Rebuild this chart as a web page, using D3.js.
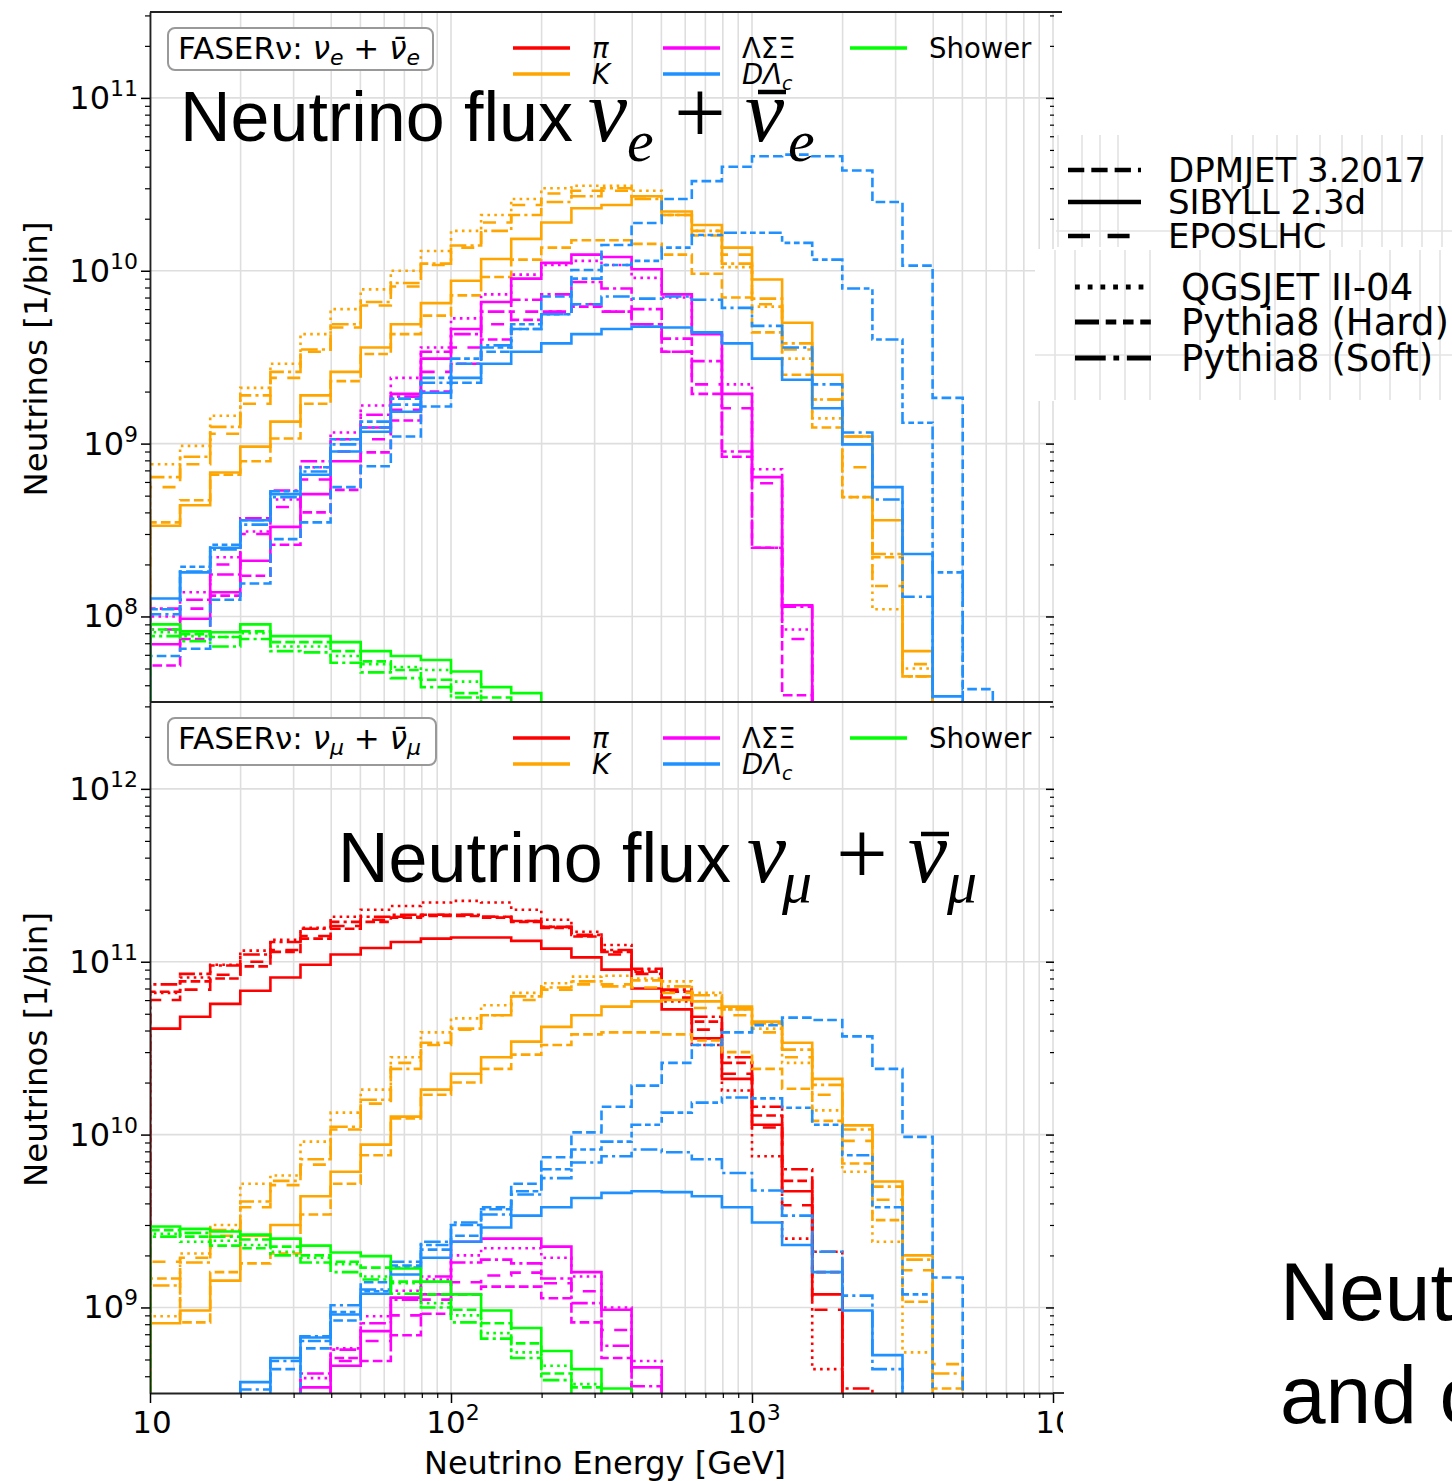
<!DOCTYPE html>
<html>
<head>
<meta charset="utf-8">
<script src="https://cdn.jsdelivr.net/npm/d3@7"></script>
<style>
  body { margin: 0; background: #fff; }
  svg { display: block; }
  text { fill: #000; }
</style>
</head>
<body>
<div id="chart"></div>
<script>
// histogram bin edges [GeV], 10 bins per decade
let binEdges = [10, 12.59, 15.85, 19.95, 25.12, 31.62, 39.81, 50.12, 63.10, 79.43,
  100, 125.9, 158.5, 199.5, 251.2, 316.2, 398.1, 501.2, 631.0, 794.3,
  1000, 1259, 1585, 1995, 2512, 3162, 3981, 5012, 6310, 7943, 10000];

// ---- electron neutrinos (top panel), neutrinos per bin ----
let nueKaonDpmjet = [3.5e8, 4.7e8, 6.6e8, 7.9e8, 1.07e9, 1.7e9, 2.3e9, 3.3e9, 4.3e9, 5.5e9, 7.2e9, 9.2e9, 1.16e10, 1.36e10, 1.5e10, 1.5e10, 1.43e10, 1.24e10, 9.6e9, 7.0e9, 4.4e9, 2.5e9, 1.24e9, 4.9e8, 2.2e8, 4.5e7];
let nueKaonSibyll = [3.35e8, 4.4e8, 6.8e8, 9.6e8, 1.34e9, 1.9e9, 2.6e9, 3.6e9, 4.9e9, 6.5e9, 8.75e9, 1.17e10, 1.53e10, 1.9e10, 2.3e10, 2.4e10, 2.7e10, 2.2e10, 1.84e10, 1.36e10, 8.9e9, 5.0e9, 2.5e9, 1.1e9, 3.6e8, 6.3e7];
let nueKaonEpos = [5.6e8, 7.6e8, 1.14e9, 1.7e9, 2.4e9, 3.4e9, 4.7e9, 6.3e9, 8.1e9, 1.08e10, 1.36e10, 1.9e10, 2.4e10, 2.8e10, 2.9e10, 2.9e10, 2.7e10, 2.1e10, 1.7e10, 1.24e10, 6.4e9, 3.5e9, 1.8e9, 7.3e8, 1.5e8, 5.3e7];
let nueKaonQgsjet = [7.6e8, 9.7e8, 1.45e9, 2.1e9, 2.9e9, 4.3e9, 6.0e9, 7.8e9, 1.0e10, 1.3e10, 1.7e10, 2.1e10, 2.6e10, 3.0e10, 3.1e10, 3.1e10, 2.9e10, 2.1e10, 1.7e10, 1.05e10, 6.2e9, 3.1e9, 1.4e9, 4.9e8, 1.1e8, 5.0e7];
let nueKaonP8soft = [6.4e8, 8.4e8, 1.25e9, 1.9e9, 2.6e9, 3.5e9, 4.9e9, 6.6e9, 8.5e9, 1.1e10, 1.4e10, 1.7e10, 2.1e10, 2.5e10, 2.7e10, 3.0e10, 2.6e10, 2.1e10, 1.6e10, 1.1e10, 6.9e9, 3.8e9, 1.8e9, 1.1e9, 2.3e8, 4.5e7];

let nueHyperonDpmjet = [5.2e7, 7.4e7, 1.32e8, 1.72e8, 2.6e8, 4.0e8, 5.4e8, 8.9e8, 1.36e9, 2.0e9, 2.9e9, 4.0e9, 5.2e9, 5.8e9, 6.2e9, 5.8e9, 4.9e9, 3.4e9, 1.94e9, 8.4e8, 2.5e8, 3.5e7];
let nueHyperonSibyll = [6.9e7, 9.7e7, 1.38e8, 2.1e8, 3.3e8, 5.1e8, 7.9e8, 1.24e9, 1.94e9, 3.1e9, 4.6e9, 6.6e9, 9.0e9, 1.11e10, 1.24e10, 1.2e10, 1.02e10, 7.3e9, 4.3e9, 1.94e9, 6.4e8, 1.16e8];
let nueHyperonEpos = [8.4e7, 1.11e8, 2.0e8, 3.0e8, 4.3e8, 6.2e8, 9.0e8, 1.06e9, 1.57e9, 2.6e9, 3.6e9, 4.9e9, 5.8e9, 5.8e9, 6.4e9, 5.8e9, 4.9e9, 3.4e9, 2.2e9, 1.6e9, 5.9e8, 7.4e7];
let nueHyperonQgsjet = [1.0e8, 1.38e8, 2.2e8, 3.1e8, 4.75e8, 7.3e8, 1.16e9, 1.66e9, 2.4e9, 3.6e9, 5.3e9, 7.3e9, 9.5e9, 1.08e10, 1.14e10, 1.08e10, 9.1e9, 7.0e9, 4.4e9, 2.2e9, 7.1e8, 8.4e7];
let nueHyperonP8soft = [1.11e8, 1.25e8, 1.75e8, 3.7e8, 5.35e8, 7.9e8, 1.06e9, 1.47e9, 1.87e9, 3.4e9, 4.3e9, 5.8e9, 6.8e9, 7.3e9, 8.6e9, 7.9e9, 6.0e9, 4.05e9, 3.0e9, 9.0e8, 2.5e8, 1.14e8];

let nueCharmDpmjet = [5.9e7, 6.5e7, 1.25e8, 1.55e8, 2.8e8, 3.5e8, 5.6e8, 7.4e8, 1.1e9, 1.64e9, 2.25e9, 3.4e9, 4.6e9, 7.1e9, 1.01e10, 1.41e10, 1.89e10, 2.6e10, 3.3e10, 4.0e10, 4.6e10, 4.7e10, 4.6e10, 3.8e10, 2.5e10, 1.07e10, 1.84e9, 3.8e7];
let nueCharmSibyll = [1.27e8, 1.8e8, 2.5e8, 3.6e8, 5.1e8, 6.6e8, 9.0e8, 1.17e9, 1.53e9, 1.97e9, 2.4e9, 2.9e9, 3.4e9, 3.8e9, 4.3e9, 4.6e9, 4.75e9, 4.7e9, 4.4e9, 3.8e9, 3.1e9, 2.34e9, 1.6e9, 9.9e8, 5.6e8, 2.3e8, 3.45e7];
let nueCharmP8hard = [1.1e8, 1.94e8, 2.6e8, 3.6e8, 5.3e8, 7.3e8, 1.06e9, 1.34e9, 1.82e9, 2.4e9, 3.1e9, 3.6e9, 4.9e9, 5.6e9, 9.0e9, 1.08e10, 1.14e10, 1.36e10, 1.61e10, 1.66e10, 1.66e10, 1.45e10, 1.16e10, 7.9e9, 4.0e9, 1.32e9, 1.8e8];
let nueCharmP8soft = [1.03e8, 1.82e8, 2.44e8, 3.4e8, 4.9e8, 6.9e8, 9.9e8, 1.24e9, 1.68e9, 2.25e9, 2.9e9, 3.7e9, 4.6e9, 5.6e9, 6.4e9, 7.1e9, 6.9e9, 7.1e9, 6.8e9, 6.1e9, 4.8e9, 3.6e9, 2.2e9, 1.16e9, 4.75e8, 1.3e8];

let nueShowerDpmjet = [8.4e7, 7.9e7, 7.6e7, 8.2e7, 7.1e7, 7.1e7, 6.3e7, 5.5e7, 4.9e7, 4.3e7, 3.6e7, 3.4e7];
let nueShowerSibyll = [9.0e7, 8.2e7, 8.1e7, 9.0e7, 7.7e7, 7.7e7, 7.1e7, 6.3e7, 5.9e7, 5.6e7, 4.8e7, 3.9e7, 3.6e7];
let nueShowerQgsjet = [8.1e7, 7.7e7, 7.6e7, 8.0e7, 6.7e7, 6.7e7, 5.9e7, 5.3e7, 5.1e7, 4.9e7, 4.2e7];
let nueShowerP8soft = [7.7e7, 7.2e7, 6.7e7, 7.4e7, 6.3e7, 6.2e7, 5.4e7, 4.75e7, 4.4e7, 3.9e7, 3.4e7];

// ---- muon neutrinos (bottom panel) ----
let numuPionDpmjet = [6.7e10, 7.7e10, 8.0e10, 9.4e10, 1.14e11, 1.36e11, 1.55e11, 1.7e11, 1.8e11, 1.84e11, 1.84e11, 1.8e11, 1.7e11, 1.57e11, 1.4e11, 1.14e11, 8.75e10, 6.7e10, 4.5e10, 2.6e10, 1.29e10, 5.4e9, 1.6e9];
let numuPionSibyll = [4.1e10, 4.8e10, 5.7e10, 6.8e10, 8.1e10, 9.6e10, 1.1e11, 1.2e11, 1.3e11, 1.36e11, 1.38e11, 1.38e11, 1.32e11, 1.19e11, 1.06e11, 9.0e10, 7.0e10, 5.3e10, 3.6e10, 2.1e10, 1.14e10, 4.7e9, 1.19e9];
let numuPionEpos = [6.0e10, 6.9e10, 8.4e10, 1.0e11, 1.17e11, 1.41e11, 1.61e11, 1.75e11, 1.82e11, 1.87e11, 1.87e11, 1.82e11, 1.72e11, 1.59e11, 1.41e11, 1.1e11, 8.5e10, 6.2e10, 4.05e10, 2.25e10, 1.1e10, 3.9e9, 9.7e8];
let numuPionQgsjet = [6.6e10, 8.1e10, 9.6e10, 1.16e11, 1.34e11, 1.57e11, 1.82e11, 2.0e11, 2.1e11, 2.2e11, 2.25e11, 2.2e11, 2.0e11, 1.75e11, 1.49e11, 1.25e11, 9.0e10, 5.9e10, 3.3e10, 1.8e10, 7.5e9, 2.5e9, 4.4e8];
let numuPionP8soft = [7.4e10, 8.5e10, 9.5e10, 1.1e11, 1.3e11, 1.55e11, 1.7e11, 1.82e11, 1.87e11, 1.87e11, 1.87e11, 1.82e11, 1.72e11, 1.59e11, 1.43e11, 1.17e11, 9.1e10, 6.9e10, 4.8e10, 2.8e10, 1.45e10, 6.3e9, 2.1e9, 3.4e8];

let numuKaonDpmjet = [1.47e9, 8.2e8, 1.6e9, 1.8e9, 2.05e9, 3.45e9, 5.2e9, 7.6e9, 1.24e10, 1.7e10, 2.0e10, 2.4e10, 2.9e10, 3.3e10, 3.8e10, 3.9e10, 3.9e10, 3.8e10, 3.5e10, 3.0e10, 2.4e10, 1.84e10, 1.2e10, 6.8e9, 3.2e9, 1.08e9, 3.4e8];
let numuKaonSibyll = [8.1e8, 9.6e8, 1.43e9, 2.6e9, 3.0e9, 4.4e9, 6.1e9, 8.75e9, 1.27e10, 1.82e10, 2.25e10, 2.8e10, 3.45e10, 4.2e10, 4.9e10, 5.5e10, 5.9e10, 6.0e10, 5.9e10, 5.5e10, 4.5e10, 3.4e10, 2.1e10, 1.13e10, 5.35e9, 2.0e9];
let numuKaonEpos = [1.84e9, 1.94e9, 2.6e9, 3.8e9, 5.1e9, 6.7e9, 1.07e10, 1.51e10, 2.6e10, 3.3e10, 4.05e10, 4.9e10, 6.0e10, 6.9e10, 7.4e10, 7.4e10, 7.1e10, 6.6e10, 5.4e10, 4.9e10, 3.9e10, 2.8e10, 1.7e10, 9.2e9, 4.2e9, 1.64e9, 4.7e8];
let numuKaonQgsjet = [8.9e8, 2.05e9, 3.0e9, 5.2e9, 5.8e9, 9.1e9, 1.34e10, 1.82e10, 2.8e10, 3.9e10, 4.7e10, 5.6e10, 6.6e10, 7.5e10, 8.2e10, 8.3e10, 8.0e10, 7.7e10, 6.6e10, 5.3e10, 4.1e10, 2.6e10, 1.38e10, 6.1e9, 2.4e9, 5.5e8];
let numuKaonP8soft = [1.34e9, 1.82e9, 2.8e9, 4.1e9, 5.4e9, 7.2e9, 1.11e10, 1.59e10, 2.4e10, 3.4e10, 4.1e10, 4.9e10, 6.3e10, 7.1e10, 7.7e10, 7.2e10, 7.8e10, 7.2e10, 6.4e10, 5.3e10, 4.4e10, 3.1e10, 1.94e10, 1.07e10, 5.0e9, 1.89e9, 4.15e8];

let numuHyperonDpmjet = [0, 0, 0, 0, 0, 0, 5.1e8, 4.9e8, 6.9e8, 9.2e8, 1.19e9, 1.32e9, 1.32e9, 1.13e9, 8.2e8, 5.1e8];
let numuHyperonSibyll = [0, 0, 0, 0, 0, 3.45e8, 4.6e8, 7.3e8, 1.14e9, 1.19e9, 2.4e9, 2.5e9, 2.5e9, 2.25e9, 1.6e9, 9.7e8, 4.5e8];
let numuHyperonEpos = [0, 0, 0, 0, 0, 0, 4.9e8, 6.4e8, 9.0e8, 1.11e9, 1.4e9, 1.53e9, 1.59e9, 1.38e9, 1.24e9, 7.4e8];
let numuHyperonQgsjet = [0, 0, 0, 0, 0, 3.9e8, 5.8e8, 8.9e8, 1.25e9, 1.45e9, 2.0e9, 2.2e9, 2.2e9, 1.94e9, 1.51e9, 1.0e9, 4.9e8];
let numuHyperonP8soft = [0, 0, 0, 0, 0, 4.15e8, 5.7e8, 8.1e8, 1.11e9, 1.51e9, 1.82e9, 1.89e9, 1.8e9, 1.47e9, 1.06e9, 6.0e8, 3.5e8];

let numuCharmDpmjet = [0, 0, 0, 0, 4.4e8, 5.8e8, 8.4e8, 1.4e9, 1.75e9, 2.16e9, 2.6e9, 3.8e9, 5.2e9, 7.4e9, 1.03e10, 1.45e10, 1.92e10, 2.6e10, 3.3e10, 3.9e10, 4.3e10, 4.75e10, 4.6e10, 3.7e10, 2.4e10, 9.7e9, 1.49e9];
let numuCharmSibyll = [0, 0, 0, 3.7e8, 5.1e8, 6.7e8, 9.1e8, 1.2e9, 1.55e9, 1.94e9, 2.4e9, 2.9e9, 3.4e9, 3.8e9, 4.3e9, 4.6e9, 4.7e9, 4.65e9, 4.4e9, 3.8e9, 3.1e9, 2.3e9, 1.6e9, 9.6e8, 5.3e8];
let numuCharmP8hard = [0, 0, 0, 0, 0, 6.4e8, 9.4e8, 1.24e9, 1.7e9, 2.3e9, 3.0e9, 3.7e9, 4.7e9, 6.3e9, 8.2e9, 9.1e9, 1.14e10, 1.34e10, 1.53e10, 1.64e10, 1.62e10, 1.43e10, 1.14e10, 7.6e9, 3.8e9, 1.19e9];
let numuCharmP8soft = [0, 0, 0, 3.35e8, 4.9e8, 6.8e8, 1.03e9, 1.27e9, 1.84e9, 2.4e9, 3.1e9, 3.45e9, 4.5e9, 5.6e9, 6.9e9, 7.5e9, 8.2e9, 7.9e9, 7.2e9, 6.0e9, 4.75e9, 3.4e9, 2.1e9, 1.17e9, 4.4e8];

let numuShowerDpmjet = [2.8e9, 2.57e9, 2.28e9, 2.2e9, 2.25e9, 2.0e9, 1.84e9, 1.7e9, 1.41e9, 1.19e9, 9.7e8, 8.1e8, 6.2e8, 4.15e8, 3.45e8];
let numuShowerSibyll = [2.94e9, 2.85e9, 2.75e9, 2.64e9, 2.5e9, 2.28e9, 2.08e9, 1.98e9, 1.68e9, 1.41e9, 1.19e9, 9.6e8, 7.6e8, 5.6e8, 4.4e8, 3.4e8];
let numuShowerQgsjet = [2.67e9, 2.4e9, 2.43e9, 2.3e9, 2.1e9, 1.94e9, 1.78e9, 1.51e9, 1.38e9, 1.06e9, 9.0e8, 7.1e8, 5.5e8, 4.6e8, 3.6e8];
let numuShowerP8soft = [2.57e9, 2.7e9, 2.57e9, 2.47e9, 2.0e9, 1.82e9, 1.6e9, 1.45e9, 1.2e9, 1.0e9, 8.2e8, 6.6e8, 5.1e8, 3.8e8];

// ---- labels ----
let sourceNames = ["π", "K", "ΛΣΞ", "DΛ", "Shower"];
let generatorNames = ["DPMJET 3.2017", "SIBYLL 2.3d", "EPOSLHC", "QGSJET II-04", "Pythia8 (Hard)", "Pythia8 (Soft)"];

// ---- styles ----
let sansMpl = "'DejaVu Sans', sans-serif";
let sansSlide = "'Liberation Sans', Arial, sans-serif";
let serifMath = "'Liberation Serif', 'Times New Roman', serif";

let sourceColors = { pi: "#ff0000", K: "#ffa500", hyp: "#ff00ff", charm: "#1e90ff", shower: "#00ff00" };
let generatorDash = {
  dpmjet: [3.7, 1.6],
  sibyll: null,
  epos:   [5, 4],
  qgsjet: [1, 1.65],
  p8hard: [5, 1.4, 2.2, 1.4, 2.2, 1.4, 2.2, 1.4],
  p8soft: [6.4, 1.6, 1.2, 1.6]
};
let lineWidth = 2.6;

let nueSeries = [
  ["K", "dpmjet", nueKaonDpmjet], ["K", "sibyll", nueKaonSibyll], ["K", "epos", nueKaonEpos],
  ["K", "qgsjet", nueKaonQgsjet], ["K", "p8soft", nueKaonP8soft],
  ["hyp", "dpmjet", nueHyperonDpmjet], ["hyp", "sibyll", nueHyperonSibyll], ["hyp", "epos", nueHyperonEpos],
  ["hyp", "qgsjet", nueHyperonQgsjet], ["hyp", "p8soft", nueHyperonP8soft],
  ["charm", "dpmjet", nueCharmDpmjet], ["charm", "sibyll", nueCharmSibyll],
  ["charm", "p8hard", nueCharmP8hard], ["charm", "p8soft", nueCharmP8soft],
  ["shower", "dpmjet", nueShowerDpmjet], ["shower", "sibyll", nueShowerSibyll],
  ["shower", "qgsjet", nueShowerQgsjet], ["shower", "p8soft", nueShowerP8soft]
];
let numuSeries = [
  ["pi", "dpmjet", numuPionDpmjet], ["pi", "sibyll", numuPionSibyll], ["pi", "epos", numuPionEpos],
  ["pi", "qgsjet", numuPionQgsjet], ["pi", "p8soft", numuPionP8soft],
  ["K", "dpmjet", numuKaonDpmjet], ["K", "sibyll", numuKaonSibyll], ["K", "epos", numuKaonEpos],
  ["K", "qgsjet", numuKaonQgsjet], ["K", "p8soft", numuKaonP8soft],
  ["hyp", "dpmjet", numuHyperonDpmjet], ["hyp", "sibyll", numuHyperonSibyll], ["hyp", "epos", numuHyperonEpos],
  ["hyp", "qgsjet", numuHyperonQgsjet], ["hyp", "p8soft", numuHyperonP8soft],
  ["charm", "dpmjet", numuCharmDpmjet], ["charm", "sibyll", numuCharmSibyll],
  ["charm", "p8hard", numuCharmP8hard], ["charm", "p8soft", numuCharmP8soft],
  ["shower", "dpmjet", numuShowerDpmjet], ["shower", "sibyll", numuShowerSibyll],
  ["shower", "qgsjet", numuShowerQgsjet], ["shower", "p8soft", numuShowerP8soft]
];

let plotLeft = 150, plotRight = 1053;

let panels = [
  { id: "nue", top: 12, bottom: 702, domain: [3.2e7, 3.14e11], series: nueSeries, flavour: "e" },
  { id: "numu", top: 702, bottom: 1393, domain: [3.2e8, 3.18e12], series: numuSeries, flavour: "μ" }
];

let svg =
  d3.select("#chart")
    .append("svg")
      .attr("width", 1452)
      .attr("height", 1481)
      .style("font-family", sansMpl);

let x =
  d3.scaleLog()
    .domain([10, 1e4])
    .range([plotLeft, plotRight]);

let xMajors = [10, 100, 1000, 10000];
let xMinors = x.ticks().filter(t => xMajors.indexOf(t) < 0);

function dashFor(gen, lw) {
  let d = generatorDash[gen];
  return d ? d.map(v => v * lw).join(",") : null;
}

// matplotlib "step" outline for one histogram
function stepPoints(values) {
  let first = values.findIndex(v => v > 0);
  let last = values.length - 1;
  while (last >= 0 && !(values[last] > 0)) last--;
  let pts = [[binEdges[first], 0]];
  for (let i = first; i <= last; i++) pts.push([binEdges[i], values[i]]);
  pts.push([binEdges[last + 1], values[last]]);
  pts.push([binEdges[last + 1], 0]);
  return pts;
}

function powerLabel(sel, exp, supDy, supSize) {
  sel.append("tspan").text("10");
  if (exp > 1) {
    sel.append("tspan")
      .attr("dy", supDy)
      .attr("font-size", supSize)
      .text(exp);
  }
}

panels.forEach(function(p) {
  let y =
    d3.scaleLog()
      .domain(p.domain)
      .range([p.bottom, p.top]);

  let yMajors = y.ticks().filter(t => Math.abs(Math.log10(t) - Math.round(Math.log10(t))) < 1e-9);
  let yMinors = y.ticks().filter(t => yMajors.indexOf(t) < 0);

  let g = svg.append("g").attr("class", "panel-" + p.id);

  // grid
  g.append("g")
    .selectAll("line")
    .data(x.ticks())
    .join("line")
      .attr("x1", d => x(d)).attr("x2", d => x(d))
      .attr("y1", p.top).attr("y2", p.bottom)
      .attr("stroke", "#dedede")
      .attr("stroke-width", 1.6);
  g.append("g")
    .selectAll("line")
    .data(yMajors)
    .join("line")
      .attr("x1", plotLeft).attr("x2", plotRight)
      .attr("y1", d => y(d)).attr("y2", d => y(d))
      .attr("stroke", "#dedede")
      .attr("stroke-width", 1.6);

  svg.append("clipPath")
      .attr("id", "clip-" + p.id)
    .append("rect")
      .attr("x", plotLeft).attr("y", p.top)
      .attr("width", plotRight - plotLeft).attr("height", p.bottom - p.top);

  let line =
    d3.line()
      .x(d => x(d[0]))
      .y(d => d[1] > 0 ? y(d[1]) : p.bottom + 30)
      .curve(d3.curveStepAfter);

  g.append("g")
      .attr("clip-path", "url(#clip-" + p.id + ")")
    .selectAll("path")
    .data(p.series)
    .join("path")
      .attr("fill", "none")
      .attr("stroke", d => sourceColors[d[0]])
      .attr("stroke-width", lineWidth)
      .attr("stroke-dasharray", d => dashFor(d[1], lineWidth))
      .attr("d", d => line(stepPoints(d[2])));

  // left axis
  g.append("g")
      .attr("transform", translate(plotLeft, 0))
      .call(d3.axisLeft(y).tickValues(yMajors).tickSize(9).tickSizeOuter(0).tickFormat(""))
      .call(a => a.select(".domain").attr("stroke", "#222").attr("stroke-width", 1.8))
      .call(a => a.selectAll(".tick line").attr("stroke-width", 1.5));
  g.append("g")
      .attr("transform", translate(plotLeft, 0))
      .call(d3.axisLeft(y).tickValues(yMinors).tickSize(5).tickFormat(""))
      .call(a => a.select(".domain").remove())
      .call(a => a.selectAll(".tick line").attr("stroke-width", 1.2));

  // right ticks, pointing in
  g.append("g")
      .attr("transform", translate(plotRight + 1, 0))
      .call(d3.axisRight(y).tickValues(yMajors).tickSize(-8).tickFormat(""))
      .call(a => a.select(".domain").remove())
      .call(a => a.selectAll(".tick line").attr("stroke-width", 1.5));
  g.append("g")
      .attr("transform", translate(plotRight + 1, 0))
      .call(d3.axisRight(y).tickValues(yMinors).tickSize(-4).tickFormat(""))
      .call(a => a.select(".domain").remove())
      .call(a => a.selectAll(".tick line").attr("stroke-width", 1.2));

  // y tick labels
  g.append("g")
    .selectAll("text")
    .data(yMajors)
    .join("text")
      .attr("x", 138)
      .attr("y", d => y(d) + 11)
      .attr("text-anchor", "end")
      .attr("font-size", 32)
      .each(function(d) { powerLabel(d3.select(this), Math.round(Math.log10(d)), -13, 22); });

  // top spine
  g.append("line")
      .attr("x1", plotLeft).attr("x2", p.id === "nue" ? 1062 : plotRight)
      .attr("y1", p.top).attr("y2", p.top)
      .attr("stroke", "#222").attr("stroke-width", 1.8);

  // y label
  g.append("text")
      .attr("transform", translate(47, (p.top + p.bottom) / 2 + 2) + " rotate(-90)")
      .attr("text-anchor", "middle")
      .attr("font-size", 32.5)
      .text("Neutrinos [1/bin]");

  // FASERnu box
  let off = p.top - 12;
  let box = g.append("g");
  box.append("rect")
      .attr("x", 168).attr("y", 28 + off)
      .attr("width", p.id === "nue" ? 265 : 268).attr("height", p.id === "nue" ? 42 : 47)
      .attr("rx", 7)
      .attr("fill", "#fff")
      .attr("stroke", "#999")
      .attr("stroke-width", 2);
  let bt = box.append("text")
      .attr("x", 178).attr("y", 59 + off)
      .attr("font-size", 31);
  bt.append("tspan").text("FASERν: ");
  bt.append("tspan").attr("font-style", "italic").text("ν");
  bt.append("tspan").attr("font-style", "italic").attr("font-size", 22).attr("dy", 6).text(p.flavour);
  bt.append("tspan").attr("dy", -6).text(" + ");
  bt.append("tspan").attr("font-style", "italic").text("ν\u0304");
  bt.append("tspan").attr("font-style", "italic").attr("font-size", 22).attr("dy", 6).text(p.flavour);

  // source legend
  let legendItems = [
    { key: "pi", label: sourceNames[0], italic: true, cx: 513, row: 0 },
    { key: "K", label: sourceNames[1], italic: true, cx: 513, row: 1 },
    { key: "hyp", label: sourceNames[2], italic: false, cx: 663, row: 0 },
    { key: "charm", label: sourceNames[3], sub: "c", italic: true, cx: 663, row: 1 },
    { key: "shower", label: sourceNames[4], italic: false, cx: 850, row: 0 }
  ];
  let leg = g.append("g");
  legendItems.forEach(function(it) {
    let ly = 48 + off + it.row * 26;
    leg.append("line")
        .attr("x1", it.cx).attr("x2", it.cx + 57)
        .attr("y1", ly).attr("y2", ly)
        .attr("stroke", sourceColors[it.key])
        .attr("stroke-width", 3.5);
    let t = leg.append("text")
        .attr("x", it.cx + 79).attr("y", ly + 10)
        .attr("font-size", 27.5)
        .attr("font-style", it.italic ? "italic" : null)
        .text(it.label);
    if (it.sub) t.append("tspan").attr("font-size", 19).attr("dy", 6).text(it.sub);
  });
});

// bottom axis
let xAxisY = 1393;
svg.append("g")
    .attr("transform", translate(0, xAxisY))
    .call(d3.axisBottom(x).tickValues(xMajors).tickSize(10).tickSizeOuter(0).tickFormat(""))
    .call(a => a.select(".domain").attr("stroke", "#222").attr("stroke-width", 1.8))
    .call(a => a.selectAll(".tick line").attr("stroke-width", 1.5));
svg.append("g")
    .attr("transform", translate(0, xAxisY))
    .call(d3.axisBottom(x).tickValues(xMinors).tickSize(5).tickFormat(""))
    .call(a => a.select(".domain").remove())
    .call(a => a.selectAll(".tick line").attr("stroke-width", 1.2));
svg.append("line")
    .attr("x1", plotRight).attr("x2", 1064)
    .attr("y1", xAxisY).attr("y2", xAxisY)
    .attr("stroke", "#222").attr("stroke-width", 1.8);

svg.append("clipPath").attr("id", "clip-xlabels")
  .append("rect").attr("x", 0).attr("y", 1395).attr("width", 1063).attr("height", 60);
svg.append("g")
    .attr("clip-path", "url(#clip-xlabels)")
  .selectAll("text")
  .data(xMajors)
  .join("text")
    .attr("x", d => x(d) + (d === 10000 ? 9 : 2))
    .attr("y", 1433)
    .attr("text-anchor", "middle")
    .attr("font-size", 31)
    .each(function(d) { powerLabel(d3.select(this), Math.round(Math.log10(d)), -13, 22); });

svg.append("text")
    .attr("x", 605).attr("y", 1474)
    .attr("text-anchor", "middle")
    .attr("font-size", 32)
    .text("Neutrino Energy [GeV]");

// slide titles: "Neutrino flux  nu_l + nubar_l"
function bigTitle(xs, yb, sub, bar) {
  let t = svg.append("g");
  t.append("text")
      .attr("x", xs[0]).attr("y", yb)
      .style("font-family", sansSlide)
      .attr("font-size", 70)
      .text("Neutrino flux");
  t.append("text").attr("x", xs[1]).attr("y", yb)
      .style("font-family", serifMath).attr("font-style", "italic").attr("font-size", 88).text("ν");
  t.append("text").attr("x", xs[2]).attr("y", yb + 20)
      .style("font-family", serifMath).attr("font-style", "italic").attr("font-size", 60).text(sub);
  t.append("text").attr("x", xs[3]).attr("y", yb + 2)
      .style("font-family", serifMath).attr("font-size", 92).text("+");
  t.append("text").attr("x", xs[4]).attr("y", yb)
      .style("font-family", serifMath).attr("font-style", "italic").attr("font-size", 88).text("ν");
  t.append("line")
      .attr("x1", bar[0]).attr("x2", bar[1])
      .attr("y1", bar[2]).attr("y2", bar[2])
      .attr("stroke", "#000").attr("stroke-width", 4.5);
  t.append("text").attr("x", xs[5]).attr("y", yb + 20)
      .style("font-family", serifMath).attr("font-style", "italic").attr("font-size", 60).text(sub);
}
bigTitle([180, 588, 627, 674, 745, 788], 141, "e", [758, 786, 92]);
bigTitle([338, 747, 782, 836, 908, 947], 882, "μ", [921, 949, 834]);

// generator legend (pasted to the right of the plot)
let genLegend = svg.append("g");
genLegend.append("rect").attr("x", 1056).attr("y", 133).attr("width", 396).attr("height", 116).attr("fill", "#fff");
genLegend.append("rect").attr("x", 1035).attr("y", 249).attr("width", 417).attr("height", 152).attr("fill", "#fff");
[1058, 1082, 1100, 1118, 1232, 1253, 1277, 1297, 1320, 1342, 1362, 1382, 1402, 1422, 1442].forEach(function(gx) {
  genLegend.append("line").attr("x1", gx).attr("x2", gx).attr("y1", 135).attr("y2", 247)
    .attr("stroke", "#e3e3e3").attr("stroke-width", 1.6);
});
[1055, 1075, 1100, 1125, 1150, 1200, 1240, 1275, 1300, 1330, 1360, 1390, 1420, 1440].forEach(function(gx) {
  genLegend.append("line").attr("x1", gx).attr("x2", gx).attr("y1", 250).attr("y2", 400)
    .attr("stroke", "#e3e3e3").attr("stroke-width", 1.6);
});
genLegend.append("line").attr("x1", 1056).attr("x2", 1452).attr("y1", 231).attr("y2", 231)
  .attr("stroke", "#e3e3e3").attr("stroke-width", 1.6);
genLegend.append("line").attr("x1", 1035).attr("x2", 1452).attr("y1", 355).attr("y2", 355)
  .attr("stroke", "#e3e3e3").attr("stroke-width", 1.6);

let genKeys = ["dpmjet", "sibyll", "epos", "qgsjet", "p8hard", "p8soft"];
let genRows = [170, 202, 236, 287, 322, 358];
genKeys.forEach(function(k, i) {
  let upper = i < 3;
  let lx = upper ? 1068 : 1075, tx = upper ? 1168 : 1181;
  let lw = upper ? 4.4 : 4.8;
  genLegend.append("line")
      .attr("x1", lx).attr("x2", lx + (upper ? 73 : 76))
      .attr("y1", genRows[i]).attr("y2", genRows[i])
      .attr("stroke", "#000")
      .attr("stroke-width", lw)
      .attr("stroke-dasharray", dashFor(k, lw));
  genLegend.append("text")
      .attr("x", tx).attr("y", genRows[i] + (upper ? 12 : 13))
      .attr("font-size", upper ? 34 : 37)
      .text(generatorNames[i]);
});

// slide text at lower right (runs off the page, as in the slide)
svg.append("text")
    .attr("x", 1280).attr("y", 1320)
    .style("font-family", sansSlide)
    .attr("font-size", 82)
    .text("Neutrino");
svg.append("text")
    .attr("x", 1280).attr("y", 1423)
    .style("font-family", sansSlide)
    .attr("font-size", 82)
    .text("and cross");

function translate(x, y = 0) {
  return "translate({x}, {y})"
          .replace("{x}", x)
          .replace("{y}", y);
}
</script>
</body>
</html>
